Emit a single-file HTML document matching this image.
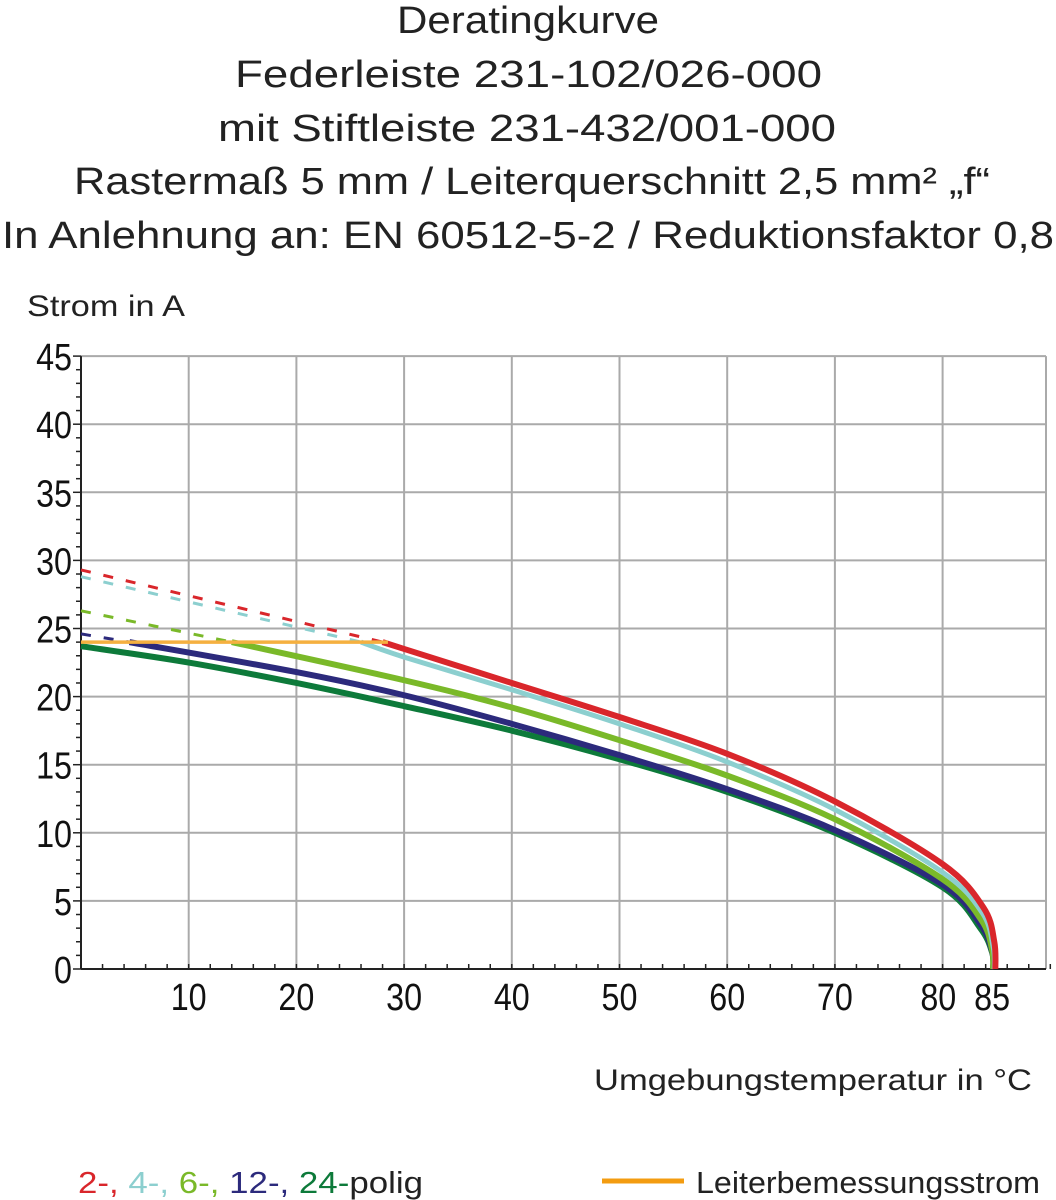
<!DOCTYPE html>
<html><head><meta charset="utf-8"><style>
html,body{margin:0;padding:0;background:#fff;}
svg{display:block;font-family:"Liberation Sans",sans-serif;}
</style></head><body>
<svg id="s" width="1056" height="1200" viewBox="0 0 1056 1200" xmlns="http://www.w3.org/2000/svg">
<g font-size="38" fill="#222" lengthAdjust="spacingAndGlyphs">
<text x="397" y="33" textLength="262" lengthAdjust="spacingAndGlyphs">Deratingkurve</text>
<text x="235" y="87" textLength="587" lengthAdjust="spacingAndGlyphs">Federleiste 231-102/026-000</text>
<text x="218" y="141" textLength="618" lengthAdjust="spacingAndGlyphs">mit Stiftleiste 231-432/001-000</text>
<text x="74" y="194" textLength="916" lengthAdjust="spacingAndGlyphs">Rastermaß 5 mm / Leiterquerschnitt 2,5 mm² „f“</text>
<text x="2" y="248" textLength="1052" lengthAdjust="spacingAndGlyphs">In Anlehnung an: EN 60512-5-2 / Reduktionsfaktor 0,8</text>
</g>
<text x="27" y="316" font-size="30" fill="#222" textLength="158" lengthAdjust="spacingAndGlyphs">Strom in A</text>
<text x="594" y="1090" font-size="30" fill="#222" textLength="438" lengthAdjust="spacingAndGlyphs">Umgebungstemperatur in °C</text>
<g id="grid"></g>
<g id="curves"></g>
<g font-size="31">
<text x="78" y="1193" textLength="345" lengthAdjust="spacingAndGlyphs"><tspan fill="#d9262b">2-,</tspan><tspan fill="#8ccfcf"> 4-,</tspan><tspan fill="#7ab929"> 6-,</tspan><tspan fill="#2c2a7c"> 12-,</tspan><tspan fill="#0d7a3a"> 24-</tspan><tspan fill="#222">polig</tspan></text>
<line x1="602" y1="1181" x2="684" y2="1181" stroke="#f39c11" stroke-width="5"/>
<text x="696" y="1193" fill="#222" textLength="344" lengthAdjust="spacingAndGlyphs">Leiterbemessungsstrom</text>
</g>
</svg>
<script>
const X=t=>81+t*10.77, Y=v=>969-v*13.62;
const NS="http://www.w3.org/2000/svg";
function el(p,tag,a,txt){const e=document.createElementNS(NS,tag);for(const k in a)e.setAttribute(k,a[k]);if(txt!=null)e.textContent=txt;p.appendChild(e);return e;}
const g=document.getElementById('grid');
for(let v=5;v<=45;v+=5)el(g,'line',{x1:81,x2:1046,y1:Y(v),y2:Y(v),stroke:'#aaa','stroke-width':2});
[10,20,30,40,50,60,70,80].forEach(t=>el(g,'line',{x1:X(t),x2:X(t),y1:Y(45),y2:969,stroke:'#aaa','stroke-width':2}));
el(g,'line',{x1:1046,x2:1046,y1:Y(45),y2:969,stroke:'#aaa','stroke-width':2});
el(g,'line',{x1:81,x2:81,y1:Y(45),y2:969,stroke:'#222','stroke-width':2});
el(g,'line',{x1:81,x2:1046,y1:969,y2:969,stroke:'#222','stroke-width':2});
for(let v=0;v<=45;v++)el(g,'line',{x1:v%5?76:73,x2:81,y1:Y(v),y2:Y(v),stroke:'#222','stroke-width':1.5});
for(let t=0;t<=90;t+=2)el(g,'line',{x1:X(t),x2:X(t),y1:969,y2:964,stroke:'#222','stroke-width':1.5});
for(let v=0;v<=45;v+=5){el(g,'text',{x:72,y:Y(v)+14,'font-size':38,'text-anchor':'end',fill:'#111',transform:`translate(72 0) scale(0.85 1) translate(-72 0)`},String(v));}
[10,20,30,40,50,60,70,80,85].forEach(t=>{const x=t==85?X(84.6):(t==80?X(79.6):X(t));el(g,'text',{x:x,y:1010,'font-size':38,'text-anchor':'middle',fill:'#111',transform:`translate(${x} 0) scale(0.85 1) translate(${-x} 0)`},String(t));});
const c=document.getElementById('curves');
function path(pts){return pts.map((p,i)=>(i?'L':'M')+X(p[0]).toFixed(1)+' '+Y(p[1]).toFixed(1)).join(' ');}
function smooth(pts){let d='M'+X(pts[0][0])+' '+Y(pts[0][1]);for(let i=1;i<pts.length;i++){const p0=pts[Math.max(i-2,0)],p1=pts[i-1],p2=pts[i],p3=pts[Math.min(i+1,pts.length-1)];const c1=[p1[0]+(p2[0]-p0[0])/6,p1[1]+(p2[1]-p0[1])/6],c2=[p2[0]-(p3[0]-p1[0])/6,p2[1]-(p3[1]-p1[1])/6];d+=` C${X(c1[0])} ${Y(c1[1])} ${X(c2[0])} ${Y(c2[1])} ${X(p2[0])} ${Y(p2[1])}`;}return d;}
const S=[
 ['#0d7a3a',[0,23.7],null,[[0,23.7],[10,22.5],[20,21.0],[30,19.3],[40,17.5],[50,15.4],[60,13.0],[70,10.0],[80,6.0],[83.5,3.0],[84.6,1.2],[84.7,0]]],
 ['#2c2a7c',[0,24.6],[4.5,24],[[4.5,24],[20,21.8],[30,20.1],[40,18.0],[50,15.7],[60,13.2],[70,10.2],[80,6.2],[83.5,3.3],[84.6,1.3],[84.7,0]]],
 ['#7ab929',[0,26.3],[14,24],[[14,24],[30,21.2],[40,19.2],[50,16.8],[60,14.2],[70,11.0],[80,6.6],[83.6,3.6],[84.6,1.4],[84.7,0]]],
 ['#8ccfcf',[0,28.8],[26,24],[[26,24],[30,22.9],[40,20.5],[50,18.0],[60,15.2],[70,11.7],[80,7.1],[83.7,4.1],[84.7,1.6],[84.8,0]]],
 ['#d9262b',[0,29.3],[28,24],[[28,24],[30,23.5],[40,21.0],[50,18.5],[60,15.8],[70,12.3],[80,7.7],[83.8,4.5],[84.8,2],[84.9,0]]],
];
S.forEach(s=>{if(s[2])el(c,'path',{d:path([s[1],s[2]]),stroke:s[0],'stroke-width':3,fill:'none','stroke-dasharray':'10 13'});
 el(c,'path',{d:smooth(s[3]),stroke:s[0],'stroke-width':s[0]=='#8ccfcf'?5:6,fill:'none','stroke-linejoin':'round'});});
el(c,'line',{x1:X(0),x2:X(28.5),y1:Y(24),y2:Y(24),stroke:'#f5b040','stroke-width':3.5});
</script>
</body></html>
